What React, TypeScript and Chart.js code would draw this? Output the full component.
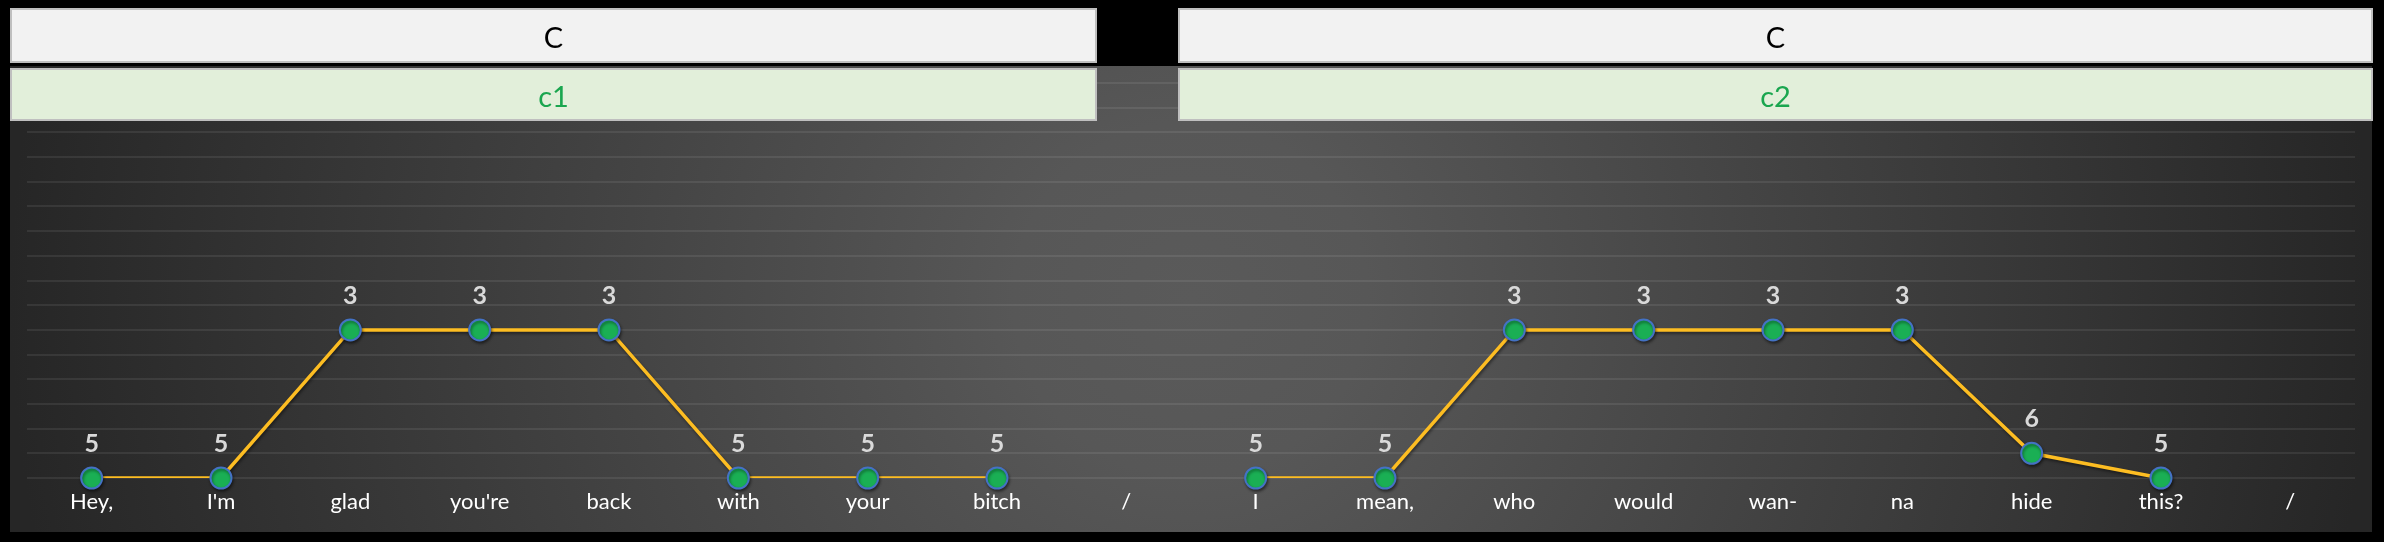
import React, { useEffect, useRef } from "react";
import { Chart, registerables } from "chart.js";

Chart.register(...registerables);

// ---- data ----
const words = [
  "Hey,", "I'm", "glad", "you're", "back", "with", "your", "bitch", "/",
  "I", "mean,", "who", "would", "wan-", "na", "hide", "this?", "/",
];
// vertical position of each syllable (gridline steps above the baseline)
const heights: (number | null)[] = [
  0, 0, 6, 6, 6, 0, 0, 0, null,
  0, 0, 6, 6, 6, 6, 1, 0, null,
];
// tone numbers printed above the points
const tones = [
  "5", "5", "3", "3", "3", "5", "5", "5", "",
  "5", "5", "3", "3", "3", "3", "6", "5", "",
];
const groupTitles = ["C", "C"];
const groupSubtitles = ["c1", "c2"];

const W = 2384;
const H = 542;
const FONT = "Lato, 'Open Sans', sans-serif";

export default function App() {
  const ref = useRef<HTMLCanvasElement>(null);

  useEffect(() => {
    document.body.style.margin = "0";
    document.body.style.background = "#000";
    const canvas = ref.current!;

    const bgPlugin = {
      id: "bgPlugin",
      beforeDraw(chart: any) {
        const c = chart.ctx;
        c.save();
        c.fillStyle = "#000";
        c.fillRect(0, 0, W, H);
        const x0 = 10, y0 = 66, x1 = 2372, y1 = 532;
        const cx = (x0 + x1) / 2, cy = (y0 + y1) / 2;
        const g = c.createRadialGradient(cx, cy, 0, cx, cy, (x1 - x0) / 2);
        g.addColorStop(0, "#5a5a5a");
        g.addColorStop(0.15, "#575757");
        g.addColorStop(1, "#262626");
        c.fillStyle = g;
        c.fillRect(x0, y0, x1 - x0, y1 - y0);
        c.restore();
      },
      beforeDatasetsDraw(chart: any) {
        const c = chart.ctx;
        c.save();
        c.shadowColor = "rgba(0,0,0,0.45)";
        c.shadowBlur = 3;
        c.shadowOffsetX = 1;
        c.shadowOffsetY = 2;
      },
      afterDatasetsDraw(chart: any) {
        const c = chart.ctx;
        c.restore();
        const meta = chart.getDatasetMeta(0);
        c.save();
        c.font = `bold 25px ${FONT}`;
        c.fillStyle = "#d9d9d9";
        c.textAlign = "center";
        c.textBaseline = "alphabetic";
        meta.data.forEach((pt: any, i: number) => {
          if (heights[i] == null || !tones[i]) return;
          c.fillText(tones[i], pt.x, pt.y - 26);
        });
        c.restore();
      },
      afterDraw(chart: any) {
        const c = chart.ctx;
        c.save();
        const boxes = [
          { x0: 10, x1: 1097 },
          { x0: 1178, x1: 2373 },
        ];
        boxes.forEach((b, i) => {
          // title row
          c.fillStyle = "#f2f2f2";
          c.fillRect(b.x0, 8, b.x1 - b.x0, 55);
          c.strokeStyle = "#bfbfbf";
          c.lineWidth = 2;
          c.strokeRect(b.x0 + 1, 9, b.x1 - b.x0 - 2, 53);
          c.fillStyle = "#000";
          c.font = `29px ${FONT}`;
          c.textAlign = "center";
          c.textBaseline = "alphabetic";
          c.fillText(groupTitles[i], (b.x0 + b.x1) / 2, 48);
          // subtitle row
          c.fillStyle = "#e2efda";
          c.fillRect(b.x0, 68, b.x1 - b.x0, 53);
          c.strokeStyle = "#bfbfbf";
          c.strokeRect(b.x0 + 1, 69, b.x1 - b.x0 - 2, 51);
          c.fillStyle = "#1aa64f";
          c.font = `29px ${FONT}`;
          c.fillText(groupSubtitles[i], (b.x0 + b.x1) / 2, 107);
        });
        c.restore();
      },
    };

    const chart = new Chart(canvas, {
      type: "line",
      data: {
        labels: words,
        datasets: [
          {
            label: "points",
            data: heights,
            showLine: false,
            pointRadius: 10.5,
            pointHoverRadius: 10.5,
            pointBackgroundColor: "#1aaf54",
            pointBorderColor: "#4472c4",
            pointBorderWidth: 2,
            clip: false as any,
          },
          {
            label: "line",
            data: heights,
            borderColor: "#fdbd22",
            borderWidth: 3.5,
            pointRadius: 0,
            spanGaps: false,
            tension: 0,
            clip: { left: false, top: false, right: false, bottom: 0 } as any,
          },
        ],
      },
      options: {
        responsive: false,
        animation: false,
        events: [],
        layout: { padding: { left: 27, right: 29, top: 83, bottom: 0 } },
        plugins: {
          legend: { display: false },
          tooltip: { enabled: false },
        },
        scales: {
          x: {
            type: "category",
            offset: true,
            grid: { display: false, drawTicks: false },
            border: { display: false },
            ticks: {
              color: "#ffffff",
              font: { family: FONT, size: 22 },
              padding: 11,
              maxRotation: 0,
              autoSkip: false,
            },
            afterFit(scale: any) {
              scale.height = 64;
            },
          },
          y: {
            min: 0,
            max: 16,
            grid: {
              color: "rgba(255,255,255,0.08)",
              lineWidth: 2,
              drawTicks: false,
            },
            border: { display: false },
            ticks: { display: false, stepSize: 1 },
            afterFit(scale: any) {
              scale.width = 0;
            },
          },
        },
      },
      plugins: [bgPlugin],
    });

    return () => chart.destroy();
  }, []);

  return (
    <div style={{ position: "fixed", left: 0, top: 0, width: W, height: H, background: "#000" }}>
      <canvas ref={ref} width={W} height={H} style={{ display: "block", width: W, height: H }} />
    </div>
  );
}
